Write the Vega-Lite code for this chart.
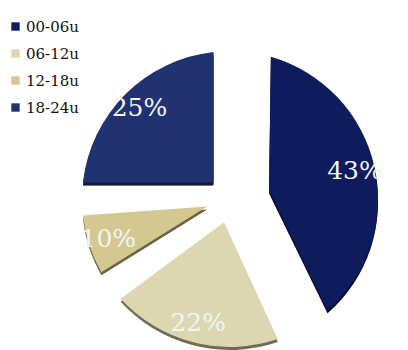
{
  "$schema": "https://vega.github.io/schema/vega-lite/v6.json",
  "width": 348,
  "height": 306,
  "autosize": "none",
  "padding": {"left": 56, "top": 46, "right": 4, "bottom": 0},
  "background": "white",
  "config": {"view": {"stroke": null}},
  "data": {
    "values": [
      {"slot": "00-06u", "value": 43, "label": "43%", "order": 1},
      {"slot": "06-12u", "value": 22, "label": "22%", "order": 2},
      {"slot": "12-18u", "value": 10, "label": "10%", "order": 3},
      {"slot": "18-24u", "value": 25, "label": "25%", "order": 4}
    ]
  },
  "transform": [
    {"stack": "value", "groupby": [], "sort": [{"field": "order", "order": "ascending"}], "as": ["v0", "v1"]}
  ],
  "layer": [
    {
      "transform": [{"filter": "datum.slot == '00-06u'"}],
      "mark": {"type": "arc", "padAngle": 0.54, "innerRadius": 40, "outerRadius": 148, "yOffset": 3},
      "encoding": {
        "theta": {"field": "v0", "type": "quantitative", "scale": {"domain": [0, 100]}},
        "theta2": {"field": "v1"},
        "color": {"field": "slot", "type": "nominal", "scale": {"domain": ["00-06u", "06-12u", "12-18u", "18-24u"], "range": ["#0e1b5c", "#ddd7b1", "#d4c891", "#203270"]}}
      }
    },
    {
      "transform": [{"filter": "datum.slot == '00-06u'"}],
      "mark": {"type": "arc", "padAngle": 0.54, "innerRadius": 40, "outerRadius": 148, "yOffset": 3, "opacity": 0.5},
      "encoding": {
        "theta": {"field": "v0", "type": "quantitative"},
        "theta2": {"field": "v1"},
        "color": {"value": "#000000"}
      }
    },
    {
      "transform": [{"filter": "datum.slot == '00-06u'"}],
      "mark": {"type": "arc", "padAngle": 0.54, "innerRadius": 40, "outerRadius": 148},
      "encoding": {
        "theta": {"field": "v0", "type": "quantitative"},
        "theta2": {"field": "v1"},
        "color": {"field": "slot", "type": "nominal"}
      }
    },
    {
      "transform": [{"filter": "datum.slot != '00-06u'"}],
      "mark": {"type": "arc", "padAngle": 0.22, "innerRadius": 24, "outerRadius": 148, "yOffset": 3},
      "encoding": {
        "theta": {"field": "v0", "type": "quantitative"},
        "theta2": {"field": "v1"},
        "color": {"field": "slot", "type": "nominal"}
      }
    },
    {
      "transform": [{"filter": "datum.slot != '00-06u'"}],
      "mark": {"type": "arc", "padAngle": 0.22, "innerRadius": 24, "outerRadius": 148, "yOffset": 3, "opacity": 0.5},
      "encoding": {
        "theta": {"field": "v0", "type": "quantitative"},
        "theta2": {"field": "v1"},
        "color": {"value": "#000000"}
      }
    },
    {
      "transform": [{"filter": "datum.slot != '00-06u'"}],
      "mark": {"type": "arc", "padAngle": 0.22, "innerRadius": 24, "outerRadius": 148},
      "encoding": {
        "theta": {"field": "v0", "type": "quantitative"},
        "theta2": {"field": "v1"},
        "color": {
          "field": "slot",
          "type": "nominal",
          "legend": {
            "orient": "none",
            "legendX": -48,
            "legendY": -27,
            "title": null,
            "symbolType": "square",
            "symbolSize": 70,
            "symbolStrokeWidth": 0,
            "labelFont": "DejaVu Serif",
            "labelFontSize": 15,
            "labelColor": "#111111",
            "labelOffset": 3,
            "rowPadding": 11,
            "padding": 0
          }
        }
      }
    },
    {
      "mark": {"type": "text", "radius": 128, "font": "DejaVu Serif", "fontSize": 25, "align": "center", "baseline": "middle"},
      "encoding": {
        "theta": {"field": "value", "type": "quantitative", "stack": true},
        "order": {"field": "order", "type": "quantitative"},
        "text": {"field": "label", "type": "nominal"},
        "color": {"value": "#f4f4f4"}
      }
    }
  ]
}
